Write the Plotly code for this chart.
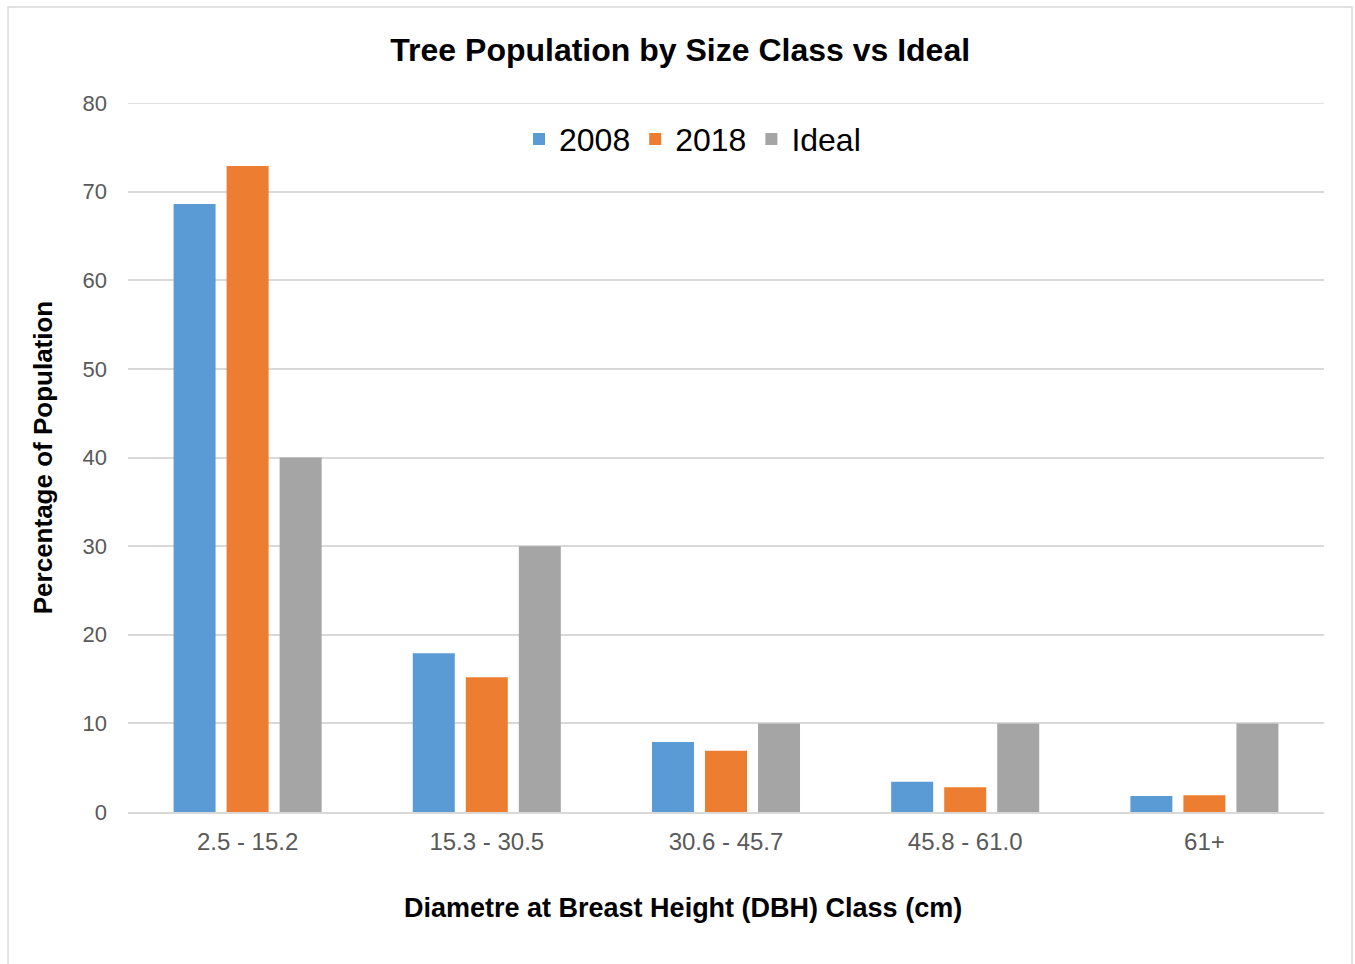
import plotly.graph_objects as go

# DBH size classes and share of the tree population (%)
classes = ["2.5 - 15.2", "15.3 - 30.5", "30.6 - 45.7", "45.8 - 61.0", "61+"]
pop_2008 = [68.6, 17.9, 7.9, 3.4, 1.8]
pop_2018 = [72.9, 15.2, 6.9, 2.8, 1.9]
pop_ideal = [40, 30, 10, 10, 10]
y_ticks = [0, 10, 20, 30, 40, 50, 60, 70, 80]

series = [
    ("2008", pop_2008, "#5b9bd5"),
    ("2018", pop_2018, "#ed7d31"),
    ("Ideal", pop_ideal, "#a5a5a5"),
]

fig = go.Figure()
for name, vals, color in series:
    fig.add_trace(go.Bar(name=name, x=classes, y=vals, marker_color=color,
                         marker_line_width=0))

fig.update_layout(
    width=1355, height=964,
    paper_bgcolor="white", plot_bgcolor="white",
    margin=dict(l=128, r=31, t=103, b=152),
    barmode="group", bargap=0.335, bargroupgap=0.208,
    font=dict(family="Liberation Sans, Arial, sans-serif", color="#595959"),
    title=dict(text="<b>Tree Population by Size Class vs Ideal</b>",
               x=0.502, xanchor="center", y=0.948, yanchor="middle",
               font=dict(size=32, color="black")),
    legend=dict(orientation="h", x=0.472, xanchor="center", y=0.949,
                yanchor="middle", font=dict(size=32, color="black"),
                bgcolor="rgba(0,0,0,0)", itemwidth=30, traceorder="normal"),
    xaxis=dict(showgrid=False, showline=True, linecolor="#d9d9d9", linewidth=2,
               ticks="", ticklabelstandoff=7,
               tickfont=dict(size=24, color="#595959")),
    yaxis=dict(range=[0, 80], tickvals=y_ticks, showgrid=True,
               gridcolor="#d9d9d9", gridwidth=1.5, zeroline=False,
               showline=False, ticks="", ticklabelstandoff=20,
               tickfont=dict(size=22, color="#595959"),
               title=dict(text="<b>Percentage of Population</b>",
                          font=dict(size=26, color="black"), standoff=22)),
    annotations=[
        dict(text="<b>Diametre at Breast Height (DBH) Class (cm)</b>",
             xref="paper", yref="paper", x=0.464, y=-0.135,
             xanchor="center", yanchor="middle", showarrow=False,
             font=dict(size=27, color="black")),
    ],
    shapes=[
        dict(type="rect", xref="paper", yref="paper",
             x0=-0.1003, x1=1.0234, y0=-0.25, y1=1.1354,
             line=dict(color="#d9d9d9", width=1.5), layer="below"),
        dict(type="line", xref="paper", yref="y", x0=0, x1=1,
             y0=y_ticks[-1], y1=y_ticks[-1],
             line=dict(color="#d9d9d9", width=1.5), layer="below"),
    ],
)

fig.write_html("out.html")
